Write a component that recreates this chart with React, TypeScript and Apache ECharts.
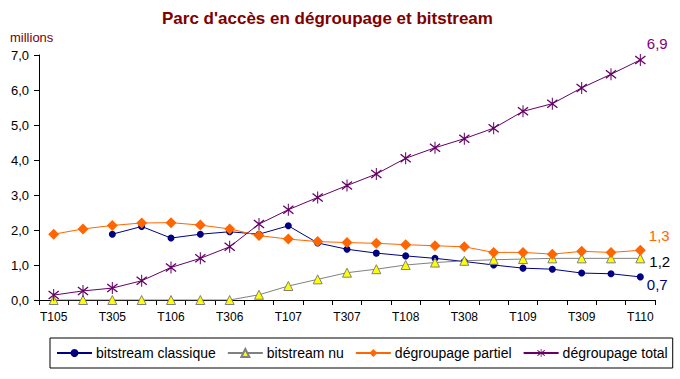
import React, { useEffect, useRef } from 'react';
import * as echarts from 'echarts';

const categories = ['T105', 'T205', 'T305', 'T405', 'T106', 'T206', 'T306', 'T406', 'T107', 'T207', 'T307', 'T407', 'T108', 'T208', 'T308', 'T408', 'T109', 'T209', 'T309', 'T409', 'T110'];
const bitstreamClassique = [null, null, 1.88, 2.1, 1.77, 1.88, 1.95, 1.88, 2.12, 1.63, 1.45, 1.34, 1.26, 1.19, 1.1, 1.0, 0.91, 0.88, 0.77, 0.75, 0.66];
const bitstreamNu = [0, 0, 0, 0, 0, 0, 0, 0.15, 0.4, 0.59, 0.78, 0.88, 1.0, 1.07, 1.12, 1.15, 1.17, 1.19, 1.19, 1.19, 1.19];
const degroupagePartiel = [1.88, 2.03, 2.13, 2.2, 2.21, 2.14, 2.03, 1.84, 1.74, 1.67, 1.64, 1.62, 1.58, 1.55, 1.52, 1.36, 1.36, 1.31, 1.39, 1.36, 1.42];
const degroupageTotal = [0.14, 0.26, 0.34, 0.55, 0.93, 1.19, 1.52, 2.17, 2.58, 2.93, 3.27, 3.6, 4.05, 4.35, 4.61, 4.91, 5.39, 5.61, 6.06, 6.45, 6.86];
const seriesNames = ['bitstream classique', 'bitstream nu', 'dégroupage partiel', 'dégroupage total'];
const endLabels = ['0,7', '1,2', '1,3', '6,9'];

const FONT = '"Liberation Sans", Arial, sans-serif';
const ASTERISK =
  'path://M5.5 0L6.5 0L6.5 12L5.5 12Z M0.6 2.5L1.4 1.5L11.4 9.5L10.6 10.5Z M10.6 1.5L11.4 2.5L1.4 10.5L0.6 9.5Z';

function withEndLabel(arr: (number | null)[], text: string, color: string, offset: number[]) {
  return arr.map((v, i) =>
    i === arr.length - 1
      ? {
          value: v,
          label: {
            show: true,
            formatter: text,
            color,
            fontSize: 15,
            fontFamily: FONT,
            position: 'right',
            offset,
          },
        }
      : v
  );
}

export default function App() {
  const ref = useRef<HTMLDivElement>(null);
  useEffect(() => {
    if (!ref.current) return;
    const chart = echarts.init(ref.current, null, { renderer: 'svg' });
    chart.setOption({
      animation: false,
      backgroundColor: '#ffffff',
      textStyle: { fontFamily: FONT },
      title: {
        text: "Parc d'accès en dégroupage et bitstream",
        left: 162,
        top: 10,
        padding: 0,
        textStyle: { color: '#800000', fontSize: 17, fontWeight: 'bold', fontFamily: FONT },
      },
      graphic: [
        {
          type: 'text',
          left: 10,
          top: 31,
          style: { text: 'millions', fill: '#800000', font: `13px ${FONT}` },
        },
      ],
      legend: {
        left: 50,
        top: 338,
        padding: [8, 5, 8, 6],
        itemGap: 11,
        itemWidth: 35,
        itemHeight: 10,
        borderColor: '#000',
        borderWidth: 1,
        textStyle: { color: '#000', fontSize: 14, fontFamily: FONT, padding: [0, 0, 0, -1] },
        data: seriesNames,
      },
      grid: { left: 39, right: 25, top: 55, bottom: 79, containLabel: false },
      xAxis: {
        type: 'category',
        data: categories,
        boundaryGap: true,
        z: 3,
        axisLine: { lineStyle: { color: '#000', width: 1 } },
        axisTick: { show: true, interval: 0, length: 5, lineStyle: { color: '#000' } },
        axisLabel: { interval: 1, color: '#000', fontSize: 12, margin: 11, fontFamily: FONT },
        splitLine: { show: false },
      },
      yAxis: {
        type: 'value',
        min: 0,
        max: 7,
        interval: 1,
        axisLine: { show: true, lineStyle: { color: '#000', width: 1 } },
        axisTick: { show: true, length: 5, lineStyle: { color: '#000' } },
        axisLabel: {
          color: '#000',
          fontSize: 13,
          margin: 10,
          fontFamily: FONT,
          formatter: (v: number) => v.toFixed(1).replace('.', ','),
        },
        splitLine: { show: false },
      },
      series: [
        {
          name: seriesNames[0],
          type: 'line',
          data: withEndLabel(bitstreamClassique, endLabels[0], '#000080', [-2, 8]),
          symbol: 'circle',
          symbolSize: 7,
          showAllSymbol: true,
          connectNulls: false,
          lineStyle: { color: '#000080', width: 1 },
          itemStyle: { color: '#000080' },
        },
        {
          name: seriesNames[1],
          type: 'line',
          data: withEndLabel(bitstreamNu, endLabels[1], '#000000', [-1, 3]),
          symbol: 'triangle',
          symbolSize: 9,
          showAllSymbol: true,
          lineStyle: { color: '#808080', width: 1 },
          itemStyle: { color: '#FFFF00', borderColor: '#808080', borderWidth: 1 },
        },
        {
          name: seriesNames[2],
          type: 'line',
          data: withEndLabel(degroupagePartiel, endLabels[2], '#FF6600', [-2, -15]),
          symbol: 'diamond',
          symbolSize: 11,
          showAllSymbol: true,
          lineStyle: { color: '#FF6600', width: 1 },
          itemStyle: { color: '#FF6600' },
        },
        {
          name: seriesNames[3],
          type: 'line',
          data: withEndLabel(degroupageTotal, endLabels[3], '#800080', [-4, -16]),
          symbol: ASTERISK,
          symbolSize: [11, 12],
          showAllSymbol: true,
          lineStyle: { color: '#660066', width: 1 },
          itemStyle: { color: '#660066' },
        },
      ],
    });
    return () => chart.dispose();
  }, []);
  return (
    <div
      ref={ref}
      style={{ position: 'absolute', left: 0, top: 0, width: 680, height: 379, background: '#fff' }}
    />
  );
}
